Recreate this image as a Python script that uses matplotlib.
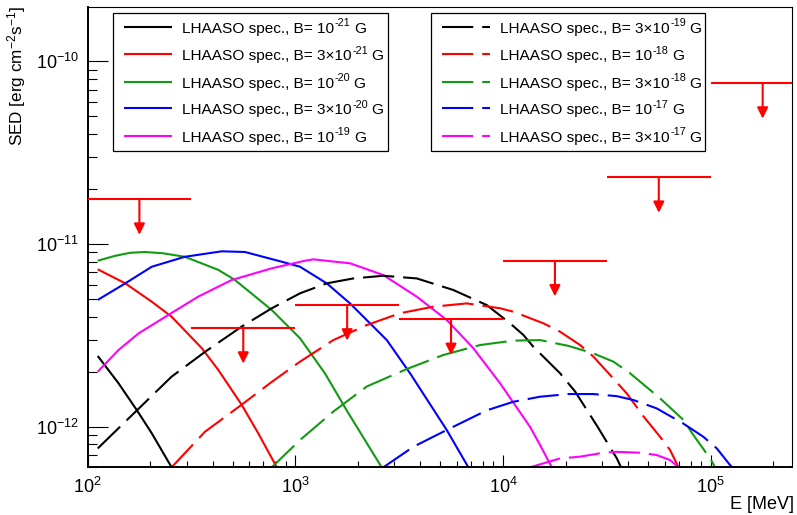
import matplotlib
matplotlib.use("Agg")
import matplotlib.pyplot as plt
from matplotlib.lines import Line2D
from matplotlib.patches import Rectangle
from matplotlib.ticker import LogLocator, NullFormatter, FixedLocator, FixedFormatter
import numpy as np

plt.rcParams['font.family'] = ['Liberation Sans', 'DejaVu Sans']
plt.rcParams['mathtext.fontset'] = 'custom'
plt.rcParams['mathtext.rm'] = 'Liberation Sans'
plt.rcParams['mathtext.it'] = 'Liberation Sans:italic'
plt.rcParams['mathtext.bf'] = 'Liberation Sans:bold'
plt.rcParams['mathtext.sf'] = 'Liberation Sans'

# ---------------- data (E in MeV, SED in erg cm^-2 s^-1) ----------------
# legend labels: (main text, superscript exponent, trailing text)
label_main = ["LHAASO spec., B= 10", "LHAASO spec., B= 3×10", "LHAASO spec., B= 10",
              "LHAASO spec., B= 3×10", "LHAASO spec., B= 10",
              "LHAASO spec., B= 3×10", "LHAASO spec., B= 10", "LHAASO spec., B= 3×10",
              "LHAASO spec., B= 10", "LHAASO spec., B= 3×10"]
label_exp = ["-21", "-21", "-20", "-20", "-19", "-19", "-18", "-18", "-17", "-17"]
label_tail = ["G"] * 10

x_ticks = [1e2, 1e3, 1e4, 1e5]
x_ticklabels = [r"$10^{2}$", r"$10^{3}$", r"$10^{4}$", r"$10^{5}$"]
y_ticks = [1e-12, 1e-11, 1e-10]
y_ticklabels = [r"$10^{-12}$", r"$10^{-11}$", r"$10^{-10}$"]

e_b1e21 = [112, 141, 173, 204, 254]
s_b1e21 = [2.44e-12, 1.73e-12, 1.23e-12, 9.2e-13, 6.0e-13]

e_b3e21 = [112, 152, 204, 254, 355, 427, 552, 664, 815]
s_b3e21 = [7.27e-12, 6.09e-12, 4.83e-12, 4.00e-12, 2.69e-12, 2.04e-12, 1.32e-12, 9.2e-13, 6.0e-13]

e_b1e20 = [112, 135, 160, 189, 230, 294, 427, 513, 771, 1054, 1390, 1768, 2606]
s_b1e20 = [8.10e-12, 8.6e-12, 8.95e-12, 9.04e-12, 8.9e-12, 8.51e-12, 7.21e-12, 6.35e-12,
           4.35e-12, 3.05e-12, 1.96e-12, 1.23e-12, 6.0e-13]

e_b3e20 = [112, 152, 204, 294, 443, 573, 893, 1054, 1418, 1835, 2759, 3572, 5360, 6813]
s_b3e20 = [4.94e-12, 6.09e-12, 7.51e-12, 8.51e-12, 9.12e-12, 9.04e-12, 7.91e-12, 7.51e-12,
           6.09e-12, 4.73e-12, 2.98e-12, 1.96e-12, 9.6e-13, 6.0e-13]

e_b1e19 = [112, 141, 176, 245, 341, 494, 771, 1114, 1222, 1835, 2655, 3846, 5360, 7200,
           9680, 13490, 15090, 17180]
s_b1e19 = [2.00e-12, 2.63e-12, 3.24e-12, 4.09e-12, 5.15e-12, 6.35e-12, 7.36e-12, 8.10e-12,
           8.24e-12, 7.84e-12, 6.76e-12, 5.15e-12, 3.84e-12, 2.69e-12, 1.73e-12, 1.00e-12,
           7.94e-13, 6.0e-13]

e_b3e19 = [112, 173, 254, 368, 552, 771, 1054, 1418, 1905, 2655, 3846, 5767, 8360, 10820,
           12530, 14000, 18840, 22230, 28380, 35330, 37000]
s_b3e19 = [7.61e-13, 1.23e-12, 1.88e-12, 2.57e-12, 3.53e-12, 4.45e-12, 5.37e-12, 6.09e-12,
           6.48e-12, 6.70e-12, 6.48e-12, 5.60e-12, 4.63e-12, 3.68e-12, 3.18e-12, 2.74e-12,
           1.96e-12, 1.56e-12, 1.01e-12, 6.71e-13, 6.0e-13]

e_b1e18 = [254, 368, 552, 771, 1054, 1525, 2208, 3197, 4624, 6693, 9680, 11220, 15660,
           18840, 23500, 27230, 32790, 39450, 47450, 57050, 63780, 69950]
s_b1e18 = [6.0e-13, 9.4e-13, 1.32e-12, 1.76e-12, 2.27e-12, 2.98e-12, 3.60e-12, 4.18e-12,
           4.54e-12, 4.73e-12, 4.45e-12, 4.26e-12, 3.68e-12, 3.31e-12, 2.80e-12, 2.42e-12,
           1.92e-12, 1.52e-12, 1.14e-12, 8.81e-13, 7.45e-13, 6.0e-13]

e_b3e18 = [771, 1054, 1525, 2208, 3445, 5165, 7760, 11220, 15090, 20650, 27230, 34030,
           40940, 57050, 73900, 82560, 99300, 105000]
s_b3e18 = [6.0e-13, 8.46e-13, 1.21e-12, 1.66e-12, 2.07e-12, 2.47e-12, 2.80e-12, 2.96e-12,
           2.98e-12, 2.77e-12, 2.52e-12, 2.27e-12, 1.96e-12, 1.43e-12, 1.09e-12, 9.0e-13,
           6.71e-13, 6.0e-13]

e_b1e17 = [2655, 3705, 5360, 8360, 11220, 15090, 20650, 27230, 35330, 42460, 54980, 73900,
           92200, 106900, 123900, 127000]
s_b1e17 = [6.0e-13, 7.77e-13, 9.6e-13, 1.23e-12, 1.37e-12, 1.46e-12, 1.51e-12, 1.51e-12,
           1.47e-12, 1.40e-12, 1.26e-12, 1.04e-12, 8.81e-13, 7.62e-13, 6.17e-13, 6.0e-13]

e_b3e17 = [13490, 18840, 23500, 30410, 35330, 45710, 54980, 63780, 69950]
s_b3e17 = [6.0e-13, 6.71e-13, 6.86e-13, 7.21e-13, 7.29e-13, 7.21e-13, 7.0e-13, 6.57e-13, 6.0e-13]

curves_e = [e_b1e21, e_b3e21, e_b1e20, e_b3e20, e_b1e19,
            e_b3e19, e_b1e18, e_b3e18, e_b1e17, e_b3e17]
curves_s = [s_b1e21, s_b3e21, s_b1e20, s_b3e20, s_b1e19,
            s_b3e19, s_b1e18, s_b3e18, s_b1e17, s_b3e17]

# upper limits: energy bin edges (MeV) and SED values
ul_emin = [100, 316, 1000, 3162, 10000, 31623, 100000]
ul_emax = [316, 1000, 3162, 10000, 31623, 100000, 316228]
ul_sed = [1.76e-11, 3.47e-12, 4.64e-12, 3.87e-12, 8.1e-12, 2.32e-11, 7.6e-11]

# ---------------- style ----------------
colors = ['black', '#ff0000', '#139a13', '#0000ff', '#ff00ff'] * 2
DASH = (15, 4.3)
LW = 1.5
ARROW_FACTOR = 10 ** (-0.195)

W, H = 797, 515
fig = plt.figure(figsize=(W / 100, H / 100), dpi=100)
ax_l, ax_r, ax_t, ax_b = 87.5, 792.3, 7.0, 467.3
ax = fig.add_axes([ax_l / W, 1 - ax_b / H, (ax_r - ax_l) / W, (ax_b - ax_t) / H])

for i, (e, s) in enumerate(zip(curves_e, curves_s)):
    ln, = ax.plot(e, s, color=colors[i], lw=LW, solid_capstyle='butt',
                  solid_joinstyle='round')
    if i >= 5:
        ln.set_dashes(DASH)
        ln.set_dash_capstyle('butt')

# upper limits
for emin, emax, v in zip(ul_emin, ul_emax, ul_sed):
    ax.hlines(v, emin, emax, color='#ff0000', lw=LW, zorder=5)
    ec = np.sqrt(emin * emax)
    ax.annotate('', xy=(ec, v * ARROW_FACTOR), xytext=(ec, v),
                arrowprops=dict(arrowstyle='-|>,head_length=0.65,head_width=0.32',
                                color='#ff0000', lw=LW, mutation_scale=10,
                                shrinkA=0, shrinkB=0),
                zorder=5, annotation_clip=True)

ax.set_xscale('log')
ax.set_yscale('log')
ax.set_xlim(100, 2.47e5)
ax.set_ylim(6.0e-13, 1.98e-10)

ax.xaxis.set_major_locator(FixedLocator(x_ticks))
ax.xaxis.set_major_formatter(FixedFormatter(x_ticklabels))
ax.yaxis.set_major_locator(FixedLocator(y_ticks))
ax.yaxis.set_major_formatter(FixedFormatter(y_ticklabels))
ax.xaxis.set_minor_locator(LogLocator(base=10, subs=np.arange(2, 10), numticks=20))
ax.yaxis.set_minor_locator(LogLocator(base=10, subs=np.arange(2, 10), numticks=20))
ax.xaxis.set_minor_formatter(NullFormatter())
ax.yaxis.set_minor_formatter(NullFormatter())

ax.tick_params(axis='x', which='major', direction='in', length=8.6, width=0.8,
               labelsize=13, pad=7, top=False)
ax.tick_params(axis='x', which='minor', direction='in', length=4.3, width=0.8, top=False)
ax.tick_params(axis='y', which='major', direction='in', length=14.4, width=0.8,
               labelsize=13, pad=6, right=False)
ax.tick_params(axis='y', which='minor', direction='in', length=6.8, width=0.8, right=False)

for side in ['left', 'bottom']:
    ax.spines[side].set_linewidth(1.4)
for side in ['top', 'right']:
    ax.spines[side].set_linewidth(0.8)

# axis titles
fig.text(28 / W, 1 - 6 / H, r"SED [erg cm$^{-2}$s$^{-1}$]", rotation=90,
         ha='right', va='top', fontsize=12.3)
fig.text(794 / W, 1 - 509 / H, "E [MeV]", ha='right', va='baseline', fontsize=13)

# legends (drawn manually to match the ROOT layout)
def fx(px):
    return px / W

def fy(py):
    return 1 - py / H

renderer = fig.canvas.get_renderer()
FS = 11.1
FS_SUP = 7.8

def legend_label(x_px, base_px, main, sup, tail):
    t1 = fig.text(fx(x_px), fy(base_px), main, fontsize=FS, ha='left',
                  va='baseline', zorder=12)
    bb1 = t1.get_window_extent(renderer)
    t2 = fig.text((bb1.x1 + 0.5) / W, fy(base_px - 6.5), sup, fontsize=FS_SUP,
                  ha='left', va='baseline', zorder=12)
    bb2 = t2.get_window_extent(renderer)
    fig.text((bb2.x1 + 3.5) / W, fy(base_px), tail, fontsize=FS, ha='left',
             va='baseline', zorder=12)

row_y = [26.7, 54.0, 81.7, 108.3, 136.0]
boxes = [(113, 388), (431, 705)]
for b, (x0, x1) in enumerate(boxes):
    fig.add_artist(Rectangle((fx(x0), fy(151)), (x1 - x0) / W, (151 - 12.7) / H,
                             transform=fig.transFigure, facecolor='white',
                             edgecolor='black', lw=0.9, zorder=10))
    for r in range(5):
        i = b * 5 + r
        y = row_y[r]
        ln = Line2D([fx(x0 + 11), fx(x0 + 59)], [fy(y), fy(y)], transform=fig.transFigure,
                    color=colors[i], lw=LW, zorder=11, solid_capstyle='butt')
        if b == 1:
            ln.set_dashes(DASH)
            ln.set_dash_capstyle('butt')
        fig.add_artist(ln)
        legend_label(x0 + 69, y + 6, label_main[i], label_exp[i], label_tail[i])

fig.savefig('out.png', dpi=100)
